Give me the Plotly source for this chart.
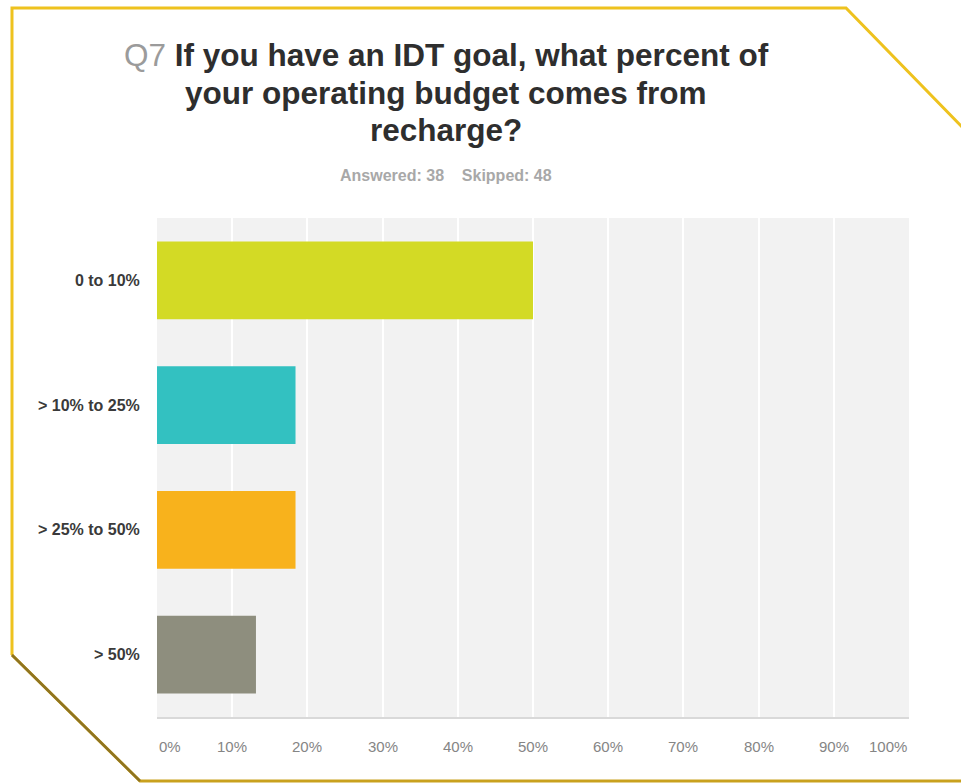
import plotly.graph_objects as go

# Survey responses (share of 38 answers)
categories = ["0 to 10%", "> 10% to 25%", "> 25% to 50%", "> 50%"]
percents = [50.00, 18.42, 18.42, 13.16]
bar_colors = ["#D3DA25", "#33C1C1", "#F8B21C", "#8E8E7E"]
tick_values = [0, 10, 20, 30, 40, 50, 60, 70, 80, 90, 100]
tick_labels = ["0%", "10%", "20%", "30%", "40%", "50%", "60%", "70%", "80%", "90%", "100%"]

title_lines = [
    "<span style='color:#9B9B9B'>Q7</span> <b>If you have an IDT goal, what percent of</b>",
    "<b>your operating budget comes from</b>",
    "<b>recharge?</b>",
]
subtitle = "Answered: 38&nbsp;&nbsp;&nbsp;&nbsp;Skipped: 48"

W, H = 961, 783
ML, MR, MT, MB = 157, 52, 218, 66
PW, PH = W - ML - MR, H - MT - MB


def px(x):
    return (x - ML) / PW


def py(y):
    return (H - MB - y) / PH


fig = go.Figure(
    go.Bar(
        x=percents,
        y=categories,
        orientation="h",
        marker=dict(color=bar_colors, line=dict(width=0)),
        hoverinfo="x+y",
    )
)

fig.update_layout(
    width=W,
    height=H,
    margin=dict(l=ML, r=MR, t=MT, b=MB),
    paper_bgcolor="white",
    plot_bgcolor="#F2F2F2",
    bargap=0.375,
    showlegend=False,
    font=dict(family="Liberation Sans, Arial, sans-serif"),
)

fig.update_xaxes(
    range=[0, 100],
    tickvals=tick_values,
    showticklabels=False,
    showgrid=True,
    gridcolor="white",
    gridwidth=1.5,
    zeroline=False,
    showline=True,
    linecolor="#D9D9D9",
    linewidth=2,
    fixedrange=True,
)
fig.update_yaxes(
    autorange="reversed",
    showgrid=False,
    zeroline=False,
    ticks="outside",
    ticklen=13,
    tickcolor="rgba(0,0,0,0)",
    tickfont=dict(size=16, color="#3A3A3A", weight="bold"),
    fixedrange=True,
)

annotations = []
# Title lines
for text, yc in zip(title_lines, [55, 93, 130]):
    annotations.append(dict(
        text=text, x=px(446), y=py(yc), xref="paper", yref="paper",
        xanchor="center", yanchor="middle", showarrow=False,
        font=dict(size=31.5, color="#2E2E2E"),
    ))
annotations.append(dict(
    text=subtitle, x=px(446), y=py(176), xref="paper", yref="paper",
    xanchor="center", yanchor="middle", showarrow=False,
    font=dict(size=16, color="#A8A8A8", weight="bold"),
))
# Percentage tick labels under the axis
for v, lab in zip(tick_values, tick_labels):
    anchor = "left" if v == tick_values[0] else ("right" if v == tick_values[-1] else "center")
    annotations.append(dict(
        text=lab, x=v, y=py(746), xref="x", yref="paper",
        xanchor=anchor, yanchor="middle", showarrow=False,
        font=dict(size=15, color="#858585"),
    ))
fig.update_layout(annotations=annotations)

# Gold frame with clipped corners
def path(points):
    return "M " + " L ".join(f"{px(x):.5f},{py(y):.5f}" for x, y in points)


fig.update_layout(shapes=[
    dict(type="path", xref="paper", yref="paper",
         path=path([(12, 655), (12, 8), (846, 8), (963, 128)]),
         line=dict(color="#EEC21E", width=3)),
    dict(type="path", xref="paper", yref="paper",
         path=path([(12, 655), (140, 781), (963, 781)]),
         line=dict(color="#C9A11E", width=3)),
    dict(type="path", xref="paper", yref="paper",
         path=path([(12, 655), (140, 781)]),
         line=dict(color="#8F7420", width=2.5)),
])

fig.write_html("out.html")
